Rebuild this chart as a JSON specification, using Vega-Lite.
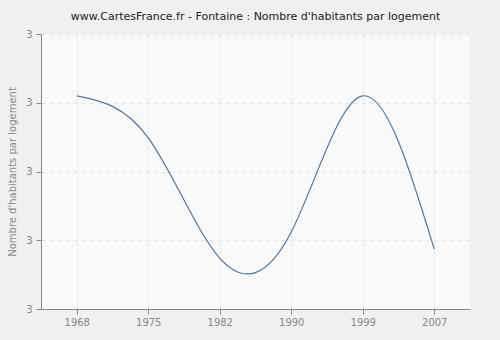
{
  "$schema": "https://vega.github.io/schema/vega-lite/v6.json",
  "autosize": {"type": "none"},
  "width": 429,
  "height": 275,
  "padding": {"left": 41, "top": 34, "right": 30, "bottom": 31},
  "background": "#f0f0f0",
  "view": {"fill": "#f9f9f9", "stroke": null},
  "title": {
    "text": "www.CartesFrance.fr - Fontaine : Nombre d'habitants par logement",
    "font": "DejaVu Sans",
    "fontSize": 11,
    "fontWeight": "normal",
    "color": "#222222",
    "anchor": "middle",
    "offset": 7
  },
  "data": {
    "values": [
      {"annee": "1968", "valeur": 3.110},
      {"annee": "1975", "valeur": 3.049},
      {"annee": "1982", "valeur": 2.874},
      {"annee": "1990", "valeur": 2.912},
      {"annee": "1999", "valeur": 3.110},
      {"annee": "2007", "valeur": 2.887}
    ]
  },
  "mark": {"type": "line", "interpolate": "natural", "color": "#4a77b0", "strokeWidth": 1.2},
  "encoding": {
    "x": {
      "field": "annee",
      "type": "ordinal",
      "scale": {"type": "point", "padding": 0.5},
      "axis": {
        "title": null,
        "labelAngle": 0,
        "labelFont": "DejaVu Sans",
        "labelFontSize": 10,
        "labelColor": "#888888",
        "domainColor": "#888888",
        "tickColor": "#888888",
        "tickSize": 5,
        "labelPadding": 3,
        "grid": true,
        "gridColor": "#e2e2e2",
        "gridDash": [4, 4]
      }
    },
    "y": {
      "field": "valeur",
      "type": "quantitative",
      "scale": {"domain": [2.8, 3.2], "nice": false, "zero": false},
      "axis": {
        "title": "Nombre d'habitants par logement",
        "titleFont": "DejaVu Sans",
        "titleFontSize": 10,
        "titleFontWeight": "normal",
        "titleColor": "#888888",
        "titlePadding": 8,
        "values": [2.8, 2.9, 3.0, 3.1, 3.2],
        "format": ".0f",
        "labelFont": "DejaVu Sans",
        "labelFontSize": 10,
        "labelColor": "#888888",
        "domainColor": "#888888",
        "tickColor": "#888888",
        "tickSize": 5,
        "labelPadding": 4,
        "grid": true,
        "gridColor": "#e2e2e2",
        "gridDash": [4, 4]
      }
    }
  }
}
